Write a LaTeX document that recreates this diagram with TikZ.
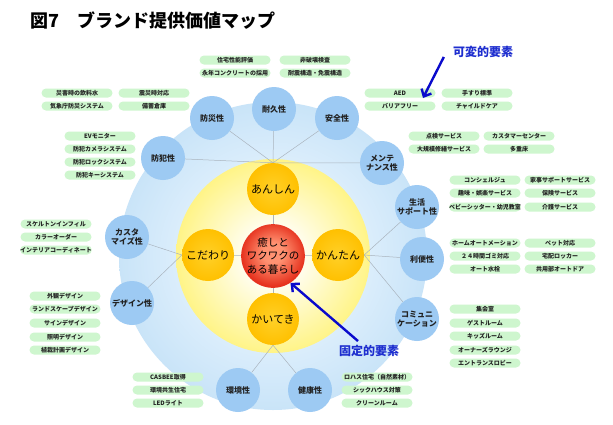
\documentclass[tikz,border=0pt]{standalone}
\usepackage{fontspec}
\setmainfont{Noto Sans CJK JP}
\usetikzlibrary{arrows.meta,calc}
\definecolor{bluenode}{HTML}{9DCAF3}
\definecolor{discin}{HTML}{E2F1FD}
\definecolor{discout}{HTML}{C9E4F8}
\definecolor{yelout}{HTML}{FFF487}
\definecolor{orin}{HTML}{FFD028}
\definecolor{orout}{HTML}{FFC000}
\definecolor{redin}{HTML}{FF9272}
\definecolor{redout}{HTML}{E6321E}
\definecolor{greenbox}{HTML}{CEF6CE}
\definecolor{linkgray}{HTML}{AAB4BE}
\definecolor{arrowblue}{HTML}{0A0ACC}
\definecolor{labelblue}{HTML}{1E2ECF}
\definecolor{txt}{HTML}{222222}
\pgfdeclareradialshading{bluedisc}{\pgfpoint{0bp}{0bp}}{color(0bp)=(discin); color(12bp)=(discin); color(25bp)=(discout); color(50bp)=(discout)}
\pgfdeclareradialshading{yellowdisc}{\pgfpoint{0bp}{0bp}}{color(0bp)=(white); color(5bp)=(white); color(25bp)=(yelout); color(50bp)=(yelout)}
\pgfdeclareradialshading{orangeball}{\pgfpoint{0bp}{0bp}}{color(0bp)=(orin); color(25bp)=(orout); color(50bp)=(orout)}
\pgfdeclareradialshading{redball}{\pgfpoint{0bp}{3bp}}{color(0bp)=(redin); color(8bp)=(redin); color(25bp)=(redout); color(50bp)=(redout)}
\pgfdeclarelayer{discs}
\pgfdeclarelayer{links}
\pgfsetlayers{discs,links,main}
\tikzset{
  bnode/.style={circle, fill=bluenode, minimum size=44pt, inner sep=0pt, align=center,
    font=\bfseries\fontsize{8}{9.5}\selectfont, text=txt},
  onode/.style={circle, shade, shading=orangeball, minimum size=52pt, inner sep=0pt,
    font=\fontsize{11}{13}\selectfont, text=black},
  rnode/.style={circle, shade, shading=redball, minimum size=62pt, inner sep=0pt, align=center,
    font=\fontsize{10.5}{13.3}\selectfont, text=black},
  gbox/.style={rounded corners=4.5pt, fill=greenbox, minimum width=71pt, minimum height=9pt,
    inner sep=0pt, font=\bfseries\fontsize{6}{6}\selectfont, text=txt},
  link/.style={draw=linkgray, line width=0.5pt},
  callout/.style={draw=arrowblue, line width=2.4pt, -{Straight Barb[length=6pt,width=11pt]}},
  calltext/.style={text=labelblue, inner sep=0pt, font=\bfseries\fontsize{12}{12}\selectfont},
}
\begin{document}
\begin{tikzpicture}[x=1pt,y=-1pt]
\useasboundingbox (0,0) rectangle (613,424);
\begin{pgfonlayer}{discs}
  \fill[white] (0,0) rectangle (613,424);
  \shade[shading=bluedisc] (273,256) circle[radius=154pt];
  \shade[shading=yellowdisc] (273,256) circle[radius=97pt];
\end{pgfonlayer}

\node[anchor=west, font=\bfseries\fontsize{18}{18}\selectfont] (title) at (27,21) {図7　ブランド提供価値マップ};

% center and core values
\node[rnode] (core) at (273,256) {癒しと\\ワクワクの\\ある暮らし};
\node[onode] (anshin) at (273,189) {あんしん};
\node[onode] (kodawari) at (208,255) {こだわり};
\node[onode] (kantan) at (338,255) {かんたん};
\node[onode] (kaiteki) at (273,319) {かいてき};

% attributes
\node[bnode] (taikyu) at (274,109) {耐久性};
\node[bnode] (anzen) at (337,118) {安全性};
\node[bnode] (bousai) at (212,118) {防災性};
\node[bnode] (bouhan) at (163,158) {防犯性};
\node[bnode] (maint) at (382,163) {メンテ\\ナンス性};
\node[bnode] (seikatsu) at (417,207) {生活\\サポート性};
\node[bnode] (riben) at (422,259) {利便性};
\node[bnode] (comm) at (417,319) {コミュニ\\ケーション};
\node[bnode] (kenko) at (310,390) {健康性};
\node[bnode] (kankyo) at (238,390) {環境性};
\node[bnode] (design) at (132,303) {デザイン性};
\node[bnode] (custom) at (127,237) {カスタ\\マイズ性};

\begin{pgfonlayer}{links}
  \foreach \o in {anshin,kodawari,kantan,kaiteki} \draw[link] (core) -- (\o);
  \foreach \b in {bouhan,bousai,taikyu,anzen,maint} \draw[link] (anshin.north) -- (\b);
  \foreach \b in {seikatsu,riben,comm} \draw[link] (kantan.east) -- (\b);
  \foreach \b in {custom,design} \draw[link] (kodawari.west) -- (\b);
  \foreach \b in {kankyo,kenko} \draw[link] (kaiteki.south) -- (\b);
\end{pgfonlayer}

% variable elements
\foreach \x/\y/\t [count=\i] in {235/60/住宅性能評価, 235/73/永年コンクリートの採用, 315/60/非破壊検査, 315/73/耐震構造・免震構造}
  \node[gbox] (ta\i) at (\x,\y) {\t};
\foreach \x/\y/\t [count=\i] in {77/93/災害時の飲料水, 154/93/震災時対応, 77/106/気象庁防災システム, 154/106/備蓄倉庫}
  \node[gbox] (sa\i) at (\x,\y) {\t};
\foreach \x/\y/\t [count=\i] in {100/136/EVモニター, 100/149/防犯カメラシステム, 100/162/防犯ロックシステム, 100/175/防犯キーシステム}
  \node[gbox] (bh\i) at (\x,\y) {\t};
\foreach \x/\y/\t [count=\i] in {400/93/AED, 477/93/手すり標準, 400/106/バリアフリー, 477/106/チャイルドケア}
  \node[gbox] (az\i) at (\x,\y) {\t};
\foreach \x/\y/\t [count=\i] in {444/136/点検サービス, 519/136/カスタマーセンター, 444/149/大規模修繕サービス, 519/149/多重床}
  \node[gbox] (mt\i) at (\x,\y) {\t};
\foreach \x/\y/\t [count=\i] in {485/180/コンシェルジュ, 560/180/家事サポートサービス, 485/193/趣味・娯楽サービス, 560/193/保険サービス, 485/207/ベビーシッター・幼児教室, 560/207/介護サービス}
  \node[gbox] (sk\i) at (\x,\y) {\t};
\foreach \x/\y/\t [count=\i] in {485/243/ホームオートメーション, 560/243/ペット対応, 485/256/２４時間ゴミ対応, 560/256/宅配ロッカー, 485/269/オート水栓, 560/269/共用部オートドア}
  \node[gbox] (rb\i) at (\x,\y) {\t};
\foreach \y/\t [count=\i] in {309/集会室, 323/ゲストルーム, 336/キッズルーム, 350/オーナーズラウンジ, 363/エントランスロビー}
  \node[gbox] (cm\i) at (485,\y) {\t};
\foreach \y/\t [count=\i] in {377/ロハス住宅（自然素材）, 390/シックハウス対策, 403/クリーンルーム}
  \node[gbox] (kk\i) at (377,\y) {\t};
\foreach \y/\t [count=\i] in {377/CASBEE取得, 390/環境共生住宅, 403/LEDライト}
  \node[gbox] (ky\i) at (168,\y) {\t};
\foreach \y/\t [count=\i] in {296/外観デザイン, 309/ランドスケープデザイン, 323/サインデザイン, 337/照明デザイン, 350/植栽計画デザイン}
  \node[gbox] (ds\i) at (65,\y) {\t};
\foreach \y/\t [count=\i] in {224/スケルトンインフィル, 237/カラーオーダー, 250/インテリアコーディネート}
  \node[gbox] (cu\i) at (56,\y) {\t};

% callouts
\node[calltext] (kahen) at (483,52) {可変的要素};
\node[calltext] (kotei) at (369,351) {固定的要素};
\coordinate (kahentip) at (423,98);
\draw[callout] ($(kahen.west)+(-9,5)$) -- (kahentip);
\draw[callout] ($(kotei.north)+(-11,-4)$) -- (core.-57);
\end{tikzpicture}
\end{document}
